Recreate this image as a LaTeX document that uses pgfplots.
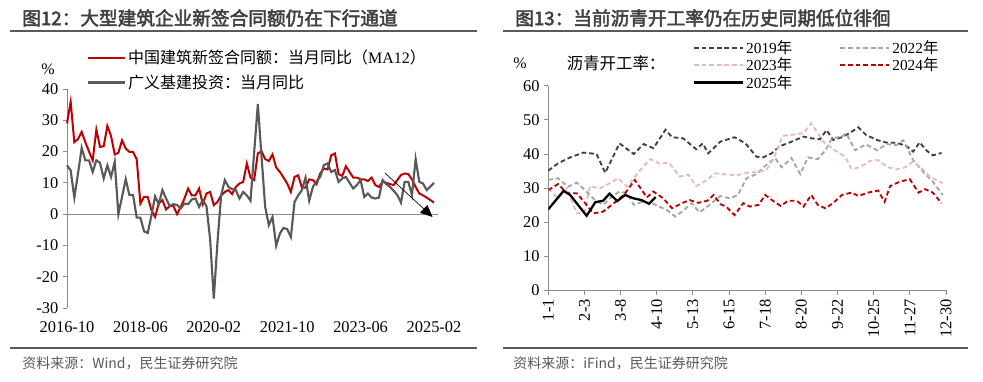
\documentclass[border=0pt]{standalone}
\usepackage{pgfplots}
\pgfplotsset{compat=1.18}
\usepackage{fontspec}
\setmainfont{Liberation Serif}
\newfontfamily\cjk{Noto Sans CJK SC}
\newfontfamily\cjkb{Noto Sans CJK SC}[FakeBold=2.5]
\usetikzlibrary{arrows.meta}
\definecolor{myred}{HTML}{C00000}
\definecolor{mygrey}{HTML}{595959}
\definecolor{axisgray}{HTML}{8C8C8C}
\definecolor{c19}{HTML}{404040}
\definecolor{c22}{HTML}{A6A6A6}
\definecolor{c23}{HTML}{E6BCBB}
\definecolor{c24}{HTML}{C00000}
\definecolor{titlec}{HTML}{404040}

\pgfplotstableread{
idx red grey
0 29.0 15.6
1 35.9 14.0
2 23.0 5.3
3 24.0 13.0
4 26.3 21.2
5 23.0 17.2
6 20.0 17.2
7 17.2 13.5
8 27.0 17.2
9 21.5 16.4
10 21.7 11.4
11 28.2 15.6
12 25.0 11.9
13 19.1 16.7
14 19.6 0.0
15 23.6 5.5
16 21.0 11.2
17 19.9 6.1
18 19.9 6.1
19 17.5 -1.1
20 3.4 -1.1
21 5.5 -5.5
22 5.5 -6.0
23 1.3 -0.5
24 -0.9 5.7
25 3.4 3.2
26 4.5 7.7
27 1.5 5.0
28 2.6 2.6
29 2.6 3.2
30 0.0 2.9
31 2.3 1.8
32 5.0 3.4
33 8.2 3.2
34 6.0 4.7
35 6.0 5.0
36 8.2 2.3
37 3.2 4.5
38 6.6 2.6
39 7.1 -8.0
40 2.9 -27.0
41 3.9 -9.0
42 6.0 6.0
43 7.1 10.9
44 7.7 8.7
45 6.4 8.0
46 8.7 7.7
47 9.8 5.0
48 10.3 7.1
49 16.2 6.0
50 11.7 4.3
51 10.9 19.7
52 19.4 35.2
53 20.1 18.5
54 17.6 2.3
55 17.0 -3.5
56 19.1 -0.9
57 14.9 -10.1
58 13.5 -6.2
59 11.7 -4.4
60 9.8 -4.8
61 7.1 -7.3
62 11.9 3.9
63 12.4 6.0
64 8.5 7.7
65 8.5 11.7
66 11.1 4.3
67 10.9 8.7
68 9.6 10.5
69 13.0 11.9
70 14.6 15.7
71 14.3 16.2
72 18.8 13.5
73 19.4 14.1
74 12.8 10.3
75 12.2 11.4
76 15.3 11.9
77 13.5 10.0
78 11.7 8.2
79 11.7 9.3
80 11.1 10.9
81 11.1 5.5
82 10.6 6.6
83 11.7 5.3
84 9.3 5.0
85 8.7 5.3
86 10.3 10.9
87 10.0 9.6
88 9.6 8.7
89 9.3 7.5
90 10.9 6.1
91 12.5 3.7
92 13.0 10.3
93 12.8 10.3
94 11.1 6.1
95 8.7 17.6
96 6.6 10.3
97 6.0 9.8
98 5.3 7.7
99 4.5 8.8
100 3.7 10.0
}\lefttab

\pgfplotstableread{
d v
0 35.1
9 37.3
20 39.0
32 40.4
44 40.0
52 34.5
65 43.1
78 40.0
87 42.9
96 41.7
107 47.1
113 44.9
123 44.6
135 41.4
141 43.1
146 40.2
157 43.6
170 44.9
180 43.1
190 39.2
196 39.0
204 40.2
211 42.2
222 43.6
233 45.1
240 44.6
248 44.3
254 47.0
260 44.1
268 44.9
275 46.1
283 47.8
290 45.6
300 44.1
309 43.3
318 43.3
327 42.3
333 40.7
339 43.4
345 41.1
351 39.6
359 40.3
}\yA

\pgfplotstableread{
d v
0 32.4
9 32.9
18 30.4
26 31.6
35 29.0
41 27.0
50 25.1
58 27.5
65 29.0
72 28.5
78 25.1
87 26.1
96 25.4
108 23.6
116 21.7
122 23.1
131 25.6
138 22.9
146 24.8
157 27.7
166 27.0
173 28.0
181 32.9
190 34.1
199 36.8
207 38.8
213 36.1
222 38.8
230 34.1
237 39.0
246 38.5
253 41.1
259 44.6
268 45.1
272 46.1
280 41.1
290 42.8
300 41.1
309 42.9
318 42.6
324 44.0
333 38.2
342 34.8
351 31.9
360 28.0
}\yB

\pgfplotstableread{
d v
0 29.9
9 27.0
17 29.9
26 22.6
33 22.8
38 30.6
47 29.9
56 31.4
64 32.9
72 30.4
84 35.3
93 38.5
102 37.1
110 37.5
120 33.4
128 33.9
135 30.6
145 32.4
152 34.3
163 34.0
172 33.7
181 34.5
192 34.7
199 35.3
205 38.2
214 45.3
222 45.6
233 46.1
240 49.0
251 43.6
262 41.0
271 39.2
277 35.5
284 36.1
294 38.0
301 38.2
310 36.1
318 35.5
326 36.1
333 37.8
341 35.8
348 33.4
360 31.4
}\yC

\pgfplotstableread{
d v
0 29.4
9 31.2
17 28.5
26 28.5
35 25.1
41 22.6
50 23.1
58 25.1
69 28.0
79 32.4
90 27.3
96 29.0
105 27.0
113 24.1
122 25.6
129 26.5
137 25.7
145 26.3
151 28.0
157 25.4
163 24.4
170 22.1
178 25.6
184 24.6
192 25.1
198 28.0
205 26.3
212 24.8
219 26.3
227 26.3
233 24.6
240 28.0
246 25.1
253 24.1
260 25.6
268 28.0
277 28.7
283 27.7
292 28.7
301 29.3
307 26.0
312 30.6
321 31.9
330 32.6
338 28.7
344 29.7
351 28.7
359 25.6
}\yD

\pgfplotstableread{
d v
0 23.8
14 29.2
20 28.0
35 21.9
43 25.9
50 26.3
56 28.4
63 26.2
70 28.0
78 27.0
85 26.5
92 25.4
98 27.4
}\yE

\begin{document}
\begin{tikzpicture}
\useasboundingbox (0,0) rectangle (737.25pt,286.5pt);

% titles and rules
\node[anchor=west, inner sep=0pt, text=titlec] at (16.5pt,273pt) {\cjkb\fontsize{14}{16}\selectfont 图12：大型建筑企业新签合同额仍在下行通道};
\node[anchor=west, inner sep=0pt, text=titlec] at (386.25pt,273pt) {\cjkb\fontsize{14}{16}\selectfont 图13：当前沥青开工率仍在历史同期低位徘徊};
\draw[mygrey, line width=1.2pt] (7.5pt,263.25pt) -- (357.75pt,263.25pt);
\draw[mygrey, line width=1.2pt] (377.25pt,263.25pt) -- (726pt,263.25pt);
\draw[mygrey, line width=1.2pt] (7.5pt,25.5pt) -- (357.75pt,25.5pt);
\draw[mygrey, line width=1.2pt] (377.25pt,25.5pt) -- (726pt,25.5pt);
\node[anchor=west, inner sep=0pt, text=mygrey] at (16.5pt,14.25pt) {\cjk\fontsize{10.5}{12}\selectfont 资料来源：Wind，民生证券研究院};
\node[anchor=west, inner sep=0pt, text=mygrey] at (384.75pt,14.25pt) {\cjk\fontsize{10.5}{12}\selectfont 资料来源：iFind，民生证券研究院};
\node[inner sep=0pt] at (36pt,234.75pt) {\fontsize{12}{14}\selectfont \%};
\node[inner sep=0pt] at (390pt,239.25pt) {\fontsize{12}{14}\selectfont \%};
\node[anchor=west, inner sep=0pt] at (425pt,239.25pt) {\cjk\fontsize{12.3}{14}\selectfont 沥青开工率：};

% left chart
\begin{axis}[
  at={(50.25pt,55.5pt)}, anchor=south west,
  scale only axis, width=278pt, height=164.25pt,
  xmin=0, xmax=101, ymin=-30, ymax=40,
  axis x line*=bottom, axis y line*=left,
  x axis line style={draw=none},
  y axis line style={draw=axisgray, line width=0.6pt},
  xtick={0,20,40,60,80,100},
  xticklabels={2016-10,2018-06,2020-02,2021-10,2023-06,2025-02},
  xtick style={draw=none},
  ytick={-30,-20,-10,0,10,20,30,40},
  yticklabels={-30,-20,-10,0,10,20,30,40},
  ytick style={draw=axisgray, line width=0.6pt},
  tick align=outside, major tick length=3pt,
  ticklabel style={font=\fontsize{12.3}{14}\selectfont},
  xticklabel style={yshift=-4pt},
  clip=false,
  legend cell align=left,
  legend image code/.code={\draw[#1] (0pt,0pt) -- (27.75pt,0pt);},
  legend style={draw=none, fill=none, at={(axis description cs:0.053,1.19)}, anchor=north west,
    font=\fontsize{12}{14}\selectfont, row sep=4pt, inner sep=0pt,
    nodes={inner sep=1.5pt}},
]
\draw[axisgray, line width=0.6pt] (axis cs:0,0) -- (axis cs:101,0);
\addplot[myred, line width=1.5pt] table[x=idx, y=red] {\lefttab};
\addlegendentry{{\cjk 中国建筑新签合同额：当月同比（}MA12{\cjk ）}}
\addplot[mygrey, line width=1.6pt] table[x=idx, y=grey] {\lefttab};
\addlegendentry{{\cjk 广义基建投资：当月同比}}
\draw[black, line width=0.5pt, -{Triangle[length=9pt,width=8pt]}] (axis cs:86.6,13.2) -- (axis cs:99.6,-0.9);
\end{axis}

% right chart
\begin{axis}[
  at={(411.2pt,68.55pt)}, anchor=south west,
  scale only axis, width=299.1pt, height=153.7pt,
  xmin=0, xmax=364, ymin=0, ymax=60,
  axis x line*=bottom, axis y line*=left,
  axis line style={draw=axisgray, line width=0.6pt},
  xtick={0,33,66,99,132,165,198,231,264,297,330,363},
  xticklabels={1-1,2-3,3-8,4-10,5-13,6-15,7-18,8-20,9-22,10-25,11-27,12-30},
  ytick={0,10,20,30,40,50,60},
  tick style={draw=axisgray, line width=0.6pt},
  tick align=outside, major tick length=3pt,
  ticklabel style={font=\fontsize{12.3}{14}\selectfont},
  yticklabel style={/pgf/number format/assume math mode=true},
  xticklabel style={rotate=90, anchor=east},
  legend columns=2,
  legend cell align=left,
  legend image code/.code={\draw[#1] (0pt,0pt) -- (36.75pt,0pt);},
  legend style={draw=none, fill=none, at={(axis description cs:0.362,1.232)}, anchor=north west,
    font=\fontsize{11.5}{13}\selectfont, inner sep=0pt, row sep=-1.2pt,
    nodes={inner sep=1.5pt},
    /tikz/every even column/.append style={column sep=34pt}},
]
\addplot[c19, line width=1.4pt, dash pattern=on 3.5pt off 2.2pt] table[x=d,y=v] {\yA};
\addlegendentry{2019{\cjk 年}}
\addplot[c22, line width=1.4pt, dash pattern=on 3.5pt off 2.2pt] table[x=d,y=v] {\yB};
\addlegendentry{2022{\cjk 年}}
\addplot[c23, line width=1.4pt, dash pattern=on 3.5pt off 2.2pt] table[x=d,y=v] {\yC};
\addlegendentry{2023{\cjk 年}}
\addplot[c24, line width=1.4pt, dash pattern=on 3.5pt off 2.2pt] table[x=d,y=v] {\yD};
\addlegendentry{2024{\cjk 年}}
\addplot[black, line width=1.7pt] table[x=d,y=v] {\yE};
\addlegendentry{2025{\cjk 年}}
\end{axis}
\end{tikzpicture}
\end{document}
